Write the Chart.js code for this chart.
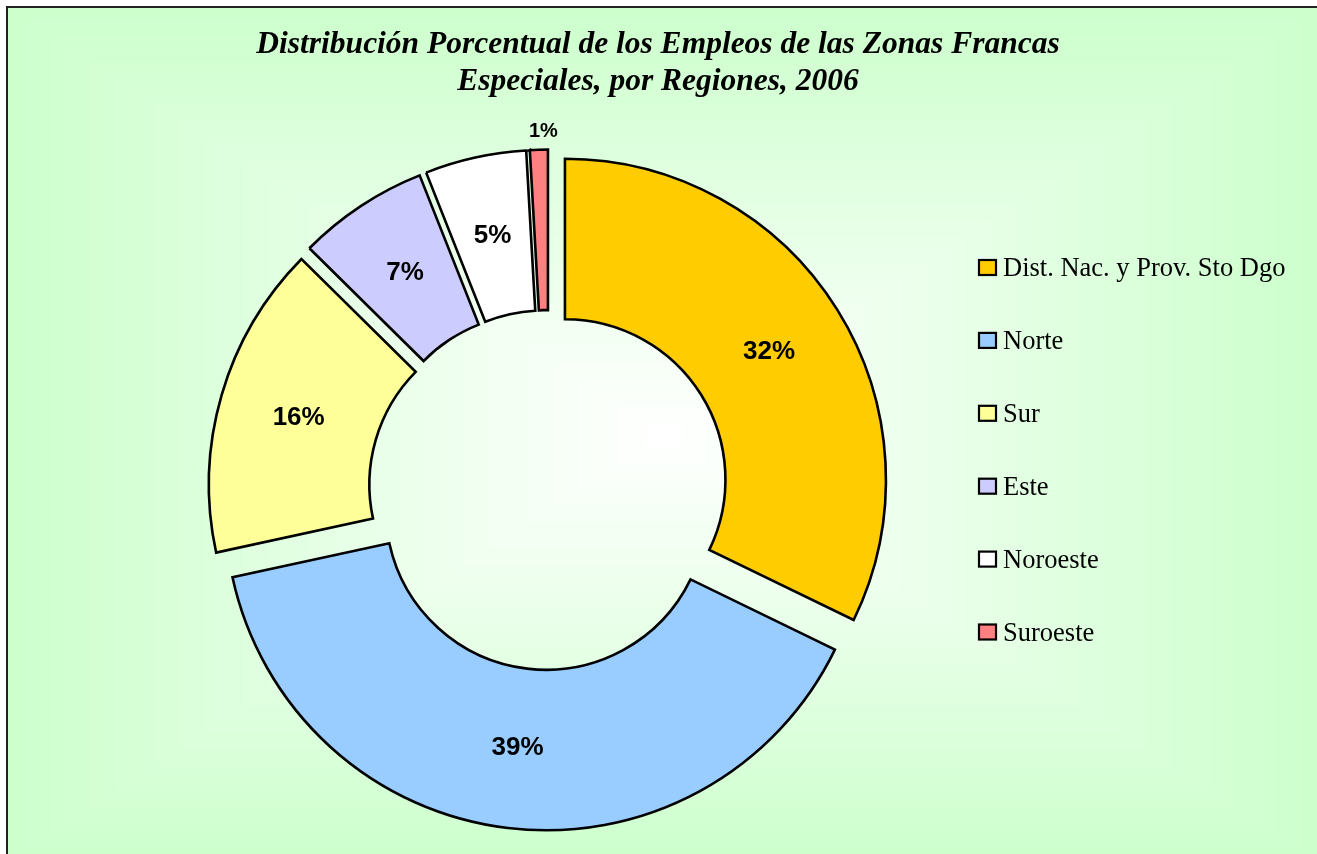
<!DOCTYPE html>
<html>
<head>
<meta charset="utf-8">
<title>Empleos Zonas Francas por Regiones 2006</title>
<script src="https://cdn.jsdelivr.net/npm/chart.js@4.4.1/dist/chart.umd.min.js"></script>
<style>
  html, body { margin: 0; padding: 0; background: #fff; overflow: hidden; }
  #wrap { position: relative; width: 1317px; height: 854px; }
</style>
</head>
<body>
<div id="wrap"><canvas id="chart"></canvas></div>
<script>
/* ── DATA ─────────────────────────────────────────────────── */
const TITLE_LINES = [
  'Distribución Porcentual de los Empleos de las Zonas Francas',
  'Especiales, por Regiones, 2006'
];
const REGIONS = ['Dist. Nac. y Prov. Sto Dgo', 'Norte', 'Sur', 'Este', 'Noroeste', 'Suroeste'];
const SHARES  = [32.2, 39.4, 15.8, 6.6, 5.1, 0.9];
const COLORS  = ['#FFCC00', '#99CCFF', '#FFFF99', '#CCCCFF', '#FFFFFF', '#FF8080'];

/* ── STYLE CONSTANTS ──────────────────────────────────────── */
const EXPLODE = 19.4;           // px each slice is pulled out
const SERIF = '"Liberation Serif", "Times New Roman", serif';
const SANS  = '"Liberation Sans", Arial, sans-serif';

/* ── BACKGROUND: rectangular "from centre" gradient + frame ─ */
function makeBackground(w, h) {
  const c = document.createElement('canvas');
  c.width = w; c.height = h;
  const g = c.getContext('2d');
  const img = g.createImageData(w, h);
  const x0 = 6, y0 = 6, x1 = 1319, y1 = 862;
  const cx = (x0 + x1) / 2, cy = (y0 + y1) / 2;
  const hw = (x1 - x0) / 2, hh = (y1 - y0) / 2;
  for (let y = 0; y < h; y++) {
    for (let x = 0; x < w; x++) {
      const i = (y * w + x) * 4;
      let rb = 255;
      if (x >= x0 && y >= y0) {
        const t = Math.min(1, Math.max(Math.abs(x - cx) / hw, Math.abs(y - cy) / hh));
        rb = Math.round(255 - 51 * t);
      }
      img.data[i] = rb; img.data[i + 1] = 255; img.data[i + 2] = rb; img.data[i + 3] = 255;
    }
  }
  g.putImageData(img, 0, 0);
  return c;
}

const backgroundPlugin = {
  id: 'background',
  beforeDraw(chart) {
    const { ctx, width, height } = chart;
    if (!chart.$bg || chart.$bg.width !== width) chart.$bg = makeBackground(width, height);
    ctx.save();
    ctx.drawImage(chart.$bg, 0, 0);
    ctx.strokeStyle = '#222';
    ctx.lineWidth = 2;
    ctx.beginPath();
    ctx.moveTo(7, height + 5);
    ctx.lineTo(7, 7);
    ctx.lineTo(width + 5, 7);
    ctx.stroke();
    ctx.restore();
  }
};

/* ── EXPLODED SLICES: move each arc out along its bisector ── */
const explodePlugin = {
  id: 'explode',
  afterDatasetsUpdate(chart) {
    const a = chart.chartArea;
    const cx = (a.left + a.right) / 2;
    const cy = (a.top + a.bottom) / 2;
    chart.getDatasetMeta(0).data.forEach(arc => {
      const mid = (arc.startAngle + arc.endAngle) / 2;
      arc.x = cx + Math.cos(mid) * EXPLODE;
      arc.y = cy + Math.sin(mid) * EXPLODE;
    });
  }
};

/* ── PERCENT LABELS ───────────────────────────────────────── */
const labelPlugin = {
  id: 'sliceLabels',
  afterDatasetsDraw(chart) {
    const { ctx } = chart;
    const values = chart.data.datasets[0].data;
    ctx.save();
    ctx.fillStyle = '#000';
    ctx.textAlign = 'center';
    ctx.textBaseline = 'middle';
    chart.getDatasetMeta(0).data.forEach((arc, i) => {
      const v = values[i];
      const small = v < 2;
      const mid = (arc.startAngle + arc.endAngle) / 2;
      const r = small ? arc.outerRadius + 18 : (arc.innerRadius + arc.outerRadius) / 2;
      ctx.font = `bold ${small ? 20 : 26}px ${SANS}`;
      ctx.fillText(Math.round(v) + '%', arc.x + Math.cos(mid) * r + (small ? 5 : 0), arc.y + Math.sin(mid) * r);
    });
    ctx.restore();
  }
};

/* ── TITLE (centred on the whole chart, not the plot) ─────── */
const titlePlugin = {
  id: 'chartTitle',
  afterDraw(chart) {
    const { ctx, width } = chart;
    ctx.save();
    ctx.fillStyle = '#000';
    ctx.textAlign = 'center';
    ctx.textBaseline = 'alphabetic';
    ctx.font = `italic bold 31.5px ${SERIF}`;
    TITLE_LINES.forEach((line, i) => ctx.fillText(line, width / 2 - 0.5, 53 + i * 37));
    ctx.restore();
  }
};

/* ── LEGEND ───────────────────────────────────────────────── */
const legendPlugin = {
  id: 'sideLegend',
  afterDraw(chart) {
    const { ctx, width } = chart;
    const ds = chart.data.datasets[0];
    const x = width - 338;
    const top = 267.5, step = 72.9;
    ctx.save();
    ctx.font = `26.5px ${SERIF}`;
    ctx.textAlign = 'left';
    ctx.textBaseline = 'alphabetic';
    chart.data.labels.forEach((label, i) => {
      const y = top + i * step;
      ctx.fillStyle = ds.backgroundColor[i];
      ctx.fillRect(x, y - 7.5, 17, 15);
      ctx.strokeStyle = '#000';
      ctx.lineWidth = 2.2;
      ctx.strokeRect(x, y - 7.5, 17, 15);
      ctx.fillStyle = '#000';
      ctx.fillText(label, x + 24, y + 8.7);
    });
    ctx.restore();
  }
};

/* ── CHART ────────────────────────────────────────────────── */
new Chart(document.getElementById('chart'), {
  type: 'doughnut',
  data: {
    labels: REGIONS,
    datasets: [{
      data: SHARES,
      backgroundColor: COLORS,
      borderColor: '#000',
      borderWidth: 2.6,
      borderJoinStyle: 'miter'
    }]
  },
  options: {
    responsive: true,
    maintainAspectRatio: false,
    devicePixelRatio: 1,
    animation: false,
    events: [],
    radius: 321,
    cutout: '50%',
    layout: { padding: { left: 0, right: 220, top: 126, bottom: 0 } },
    plugins: {
      legend: { display: false },
      title: { display: false },
      tooltip: { enabled: false }
    }
  },
  plugins: [backgroundPlugin, explodePlugin, labelPlugin, titlePlugin, legendPlugin]
});
</script>
</body>
</html>
